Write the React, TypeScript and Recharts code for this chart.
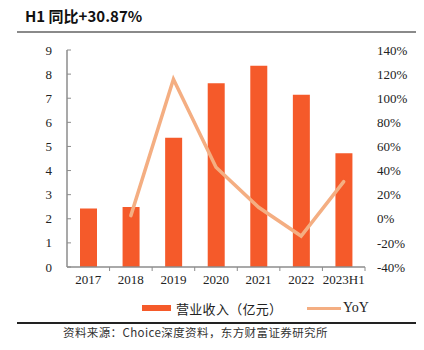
import React from 'react';
import { ComposedChart, Bar, Line, XAxis, YAxis } from 'recharts';

const years = ['2017', '2018', '2019', '2020', '2021', '2022', '2023H1'];
const revenue = [2.43, 2.49, 5.36, 7.62, 8.35, 7.14, 4.72];
const yoy = [null, 2.6, 115.7, 42.7, 9.5, -14.3, 30.87];
const leftTicks = [0, 1, 2, 3, 4, 5, 6, 7, 8, 9];
const rightTicks = [-40, -20, 0, 20, 40, 60, 80, 100, 120, 140];

const data = years.map((year, i) => ({ year, revenue: revenue[i], yoy: yoy[i] }));

const BAR_COLOR = '#F55A2A';
const LINE_COLOR = '#F4AE82';
const AXIS_COLOR = '#8C8C8C';
const SERIF = '"Liberation Serif", "Times New Roman", serif';
const CJK = '"Noto Sans CJK SC", sans-serif';

const LeftTick = ({ x, y, payload }: any) => (
  <g>
    <line x1={67} x2={71} y1={y} y2={y} stroke={AXIS_COLOR} strokeWidth={1} />
    <text x={x} y={y} dy={4.5} textAnchor="end" fontSize={13} fontFamily={SERIF} fill="#222">
      {payload.value}
    </text>
  </g>
);

const BottomTick = ({ x, y, payload, index }: any) => {
  const band = 298 / years.length;
  return (
    <g>
      {index > 0 && (
        <line x1={x - band / 2} x2={x - band / 2} y1={267} y2={271} stroke={AXIS_COLOR} />
      )}
      {index === years.length - 1 && (
        <line x1={x + band / 2} x2={x + band / 2} y1={267} y2={271} stroke={AXIS_COLOR} />
      )}
      <text x={x} y={y} dy={11} textAnchor="middle" fontSize={13} fontFamily={SERIF} fill="#222">
        {payload.value}
      </text>
    </g>
  );
};

export default function App() {
  return (
    <div style={{ position: 'absolute', left: 0, top: 0, width: 424, height: 350, background: '#fff', fontFamily: CJK }}>
      <div style={{ position: 'absolute', left: 25, top: 5, fontSize: 15, fontWeight: 700, color: '#111', whiteSpace: 'nowrap' }}>
        H1 同比+30.87%
      </div>
      <div style={{ position: 'absolute', left: 17, top: 31, width: 399, height: 2, background: '#8a8a8a' }} />

      <div style={{ position: 'absolute', left: 0, top: 0 }}>
        <ComposedChart width={424} height={300} data={data} margin={{ top: 50, right: 0, bottom: 0, left: 0 }}>
          <XAxis
            dataKey="year"
            height={33}
            axisLine={{ stroke: AXIS_COLOR, strokeWidth: 1.5 }}
            tickLine={false}
            tickSize={0}
            tickMargin={6}
            tick={<BottomTick />}
            interval={0}
          />
          <YAxis
            yAxisId="left"
            width={67}
            domain={[0, 9]}
            ticks={leftTicks}
            axisLine={{ stroke: AXIS_COLOR, strokeWidth: 1.5 }}
            tickLine={false}
            tickSize={0}
            tickMargin={15}
            tick={<LeftTick />}
            interval={0}
          />
          <YAxis
            yAxisId="right"
            orientation="right"
            width={59}
            domain={[-40, 140]}
            ticks={rightTicks}
            axisLine={false}
            tickLine={false}
            tickSize={0}
            tickMargin={12}
            interval={0}
            tickFormatter={(v: number) => `${v}%`}
            tick={{ fontSize: 13, fontFamily: SERIF, fill: '#222' }}
          />
          <Bar yAxisId="left" dataKey="revenue" fill={BAR_COLOR} barSize={17} isAnimationActive={false} />
          <Line
            yAxisId="right"
            dataKey="yoy"
            stroke={LINE_COLOR}
            strokeWidth={3.5}
            strokeLinecap="round"
            dot={false}
            activeDot={false}
            isAnimationActive={false}
          />
        </ComposedChart>
      </div>

      <div style={{ position: 'absolute', left: 142, top: 305, width: 29, height: 6, background: BAR_COLOR }} />
      <div style={{ position: 'absolute', left: 176, top: 299, fontSize: 13, letterSpacing: 0.3, color: '#222', whiteSpace: 'nowrap' }}>
        营业收入（亿元）
      </div>
      <div style={{ position: 'absolute', left: 307, top: 307, width: 34, height: 3, background: LINE_COLOR }} />
      <div style={{ position: 'absolute', left: 343, top: 300, fontSize: 14, fontFamily: SERIF, color: '#222' }}>
        YoY
      </div>

      <div style={{ position: 'absolute', left: 17, top: 322, width: 399, height: 1.5, background: '#222' }} />
      <div style={{ position: 'absolute', left: 63, top: 324, fontSize: 11.5, letterSpacing: 0.4, color: '#333', whiteSpace: 'nowrap' }}>
        资料来源：Choice深度资料，东方财富证券研究所
      </div>
    </div>
  );
}
